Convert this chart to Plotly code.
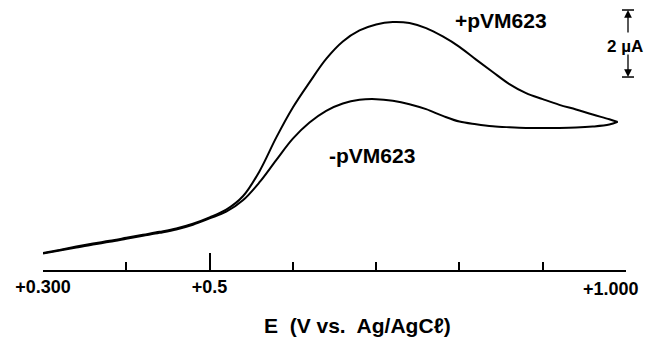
import plotly.graph_objects as go

# Potential (V vs Ag/AgCl)
potential = [0.30, 0.32, 0.34, 0.36, 0.38, 0.40, 0.42, 0.44, 0.46, 0.48, 0.50, 0.52,
             0.54, 0.56, 0.58, 0.60, 0.62, 0.64, 0.66, 0.68, 0.70, 0.72, 0.74, 0.76,
             0.78, 0.80, 0.82, 0.84, 0.86, 0.88, 0.90, 0.92, 0.94, 0.96, 0.98, 0.99]
# Current (µA, relative to baseline)
plus_pvm623 = [0.51, 0.60, 0.70, 0.79, 0.87, 0.96, 1.05, 1.14, 1.24, 1.38, 1.57, 1.80,
               2.20, 2.95, 3.95, 4.85, 5.60, 6.30, 6.82, 7.15, 7.33, 7.40, 7.37, 7.22,
               6.97, 6.66, 6.28, 5.91, 5.55, 5.28, 5.10, 4.93, 4.79, 4.64, 4.50, 4.42]
minus_pvm623 = [0.49, 0.58, 0.67, 0.76, 0.84, 0.93, 1.02, 1.11, 1.21, 1.35, 1.54, 1.74,
                2.08, 2.62, 3.28, 3.92, 4.40, 4.75, 4.97, 5.08, 5.10, 5.05, 4.95, 4.80,
                4.60, 4.43, 4.35, 4.29, 4.26, 4.24, 4.24, 4.24, 4.25, 4.28, 4.34, 4.42]

tick_vals = [0.3, 0.5, 1.0]
tick_text = ["+0.300", "+0.5", "+1.000"]
axis_title = "E  (V vs.  Ag/AgC\u2113)"
scale_bottom = 5.76
scale_size = 2.0  # µA

FONT = "Liberation Sans, Arial, sans-serif"
line_style = dict(color="black", width=2, shape="spline", smoothing=1.0)
tick_font = dict(family=FONT, size=18, color="black", weight="bold")

fig = go.Figure()
fig.add_trace(go.Scatter(x=potential, y=plus_pvm623, mode="lines", line=line_style,
                         name="+pVM623", showlegend=False, hoverinfo="skip"))
fig.add_trace(go.Scatter(x=potential, y=minus_pvm623, mode="lines", line=line_style,
                         name="-pVM623", showlegend=False, hoverinfo="skip"))

# the last tick label sits inside the figure edge, so it is drawn as an annotation
ticktext = tick_text[:-1] + [""]

fig.update_xaxes(
    range=[0.3, 1.0], showgrid=False, zeroline=False, automargin=False,
    showline=True, linecolor="black", linewidth=1.5,
    tickmode="array", tickvals=tick_vals, ticktext=ticktext,
    ticks="inside", ticklen=17, tickwidth=1.5, tickcolor="black",
    ticklabelstandoff=0,
    tickfont=tick_font,
    minor=dict(dtick=0.1, tick0=0.3, ticks="inside", ticklen=8, tickwidth=1.5,
               tickcolor="black", showgrid=False),
)
fig.update_yaxes(range=[0, 7.82], visible=False, automargin=False)

annotations = [
    dict(x=tick_vals[-1], y=0, xref="x", yref="paper", text=tick_text[-1], showarrow=False,
         xanchor="right", yanchor="middle", xshift=15, yshift=-19, font=tick_font),
    dict(x=0.85, y=7.46, xref="x", yref="y", text="+pVM623", showarrow=False,
         font=dict(family=FONT, size=21, color="black", weight="bold")),
    dict(x=0.695, y=3.43, xref="x", yref="y", text="-pVM623", showarrow=False,
         font=dict(family=FONT, size=21, color="black", weight="bold")),
    dict(x=0.539, y=-55 / 262, xref="paper", yref="paper", text=axis_title, showarrow=False,
         xanchor="center", yanchor="middle",
         font=dict(family=FONT, size=21, color="black", weight="bold")),
    # scale bar
    dict(x=1.0, y=scale_bottom + scale_size, xref="paper", yref="y", xshift=2,
         ax=0, ay=24, text="", showarrow=True, arrowhead=2, arrowsize=1.2,
         arrowwidth=1.3, arrowcolor="black"),
    dict(x=1.0, y=scale_bottom, xref="paper", yref="y", xshift=2,
         ax=0, ay=-24, text="", showarrow=True, arrowhead=2, arrowsize=1.2,
         arrowwidth=1.3, arrowcolor="black"),
    dict(x=1.0, y=scale_bottom + scale_size / 2, xref="paper", yref="y", xshift=-1, yshift=-3,
         xanchor="center", yanchor="middle",
         text="2 \u00b5A", showarrow=False,
         font=dict(family=FONT, size=17, color="black", weight="bold")),
]

shapes = []
for yv in [scale_bottom, scale_bottom + scale_size]:
    shapes.append(dict(type="line", xref="paper", yref="y", xsizemode="pixel", xanchor=1.0,
                       x0=-4, x1=8, y0=yv, y1=yv, line=dict(color="black", width=1.5)))

fig.update_layout(
    width=646, height=338,
    margin=dict(l=43, r=20, t=8, b=68),
    paper_bgcolor="white", plot_bgcolor="white",
    annotations=annotations, shapes=shapes,
    showlegend=False,
)

fig.write_html("out.html", config={"displayModeBar": False},
               post_script="document.body.style.margin='0';")
